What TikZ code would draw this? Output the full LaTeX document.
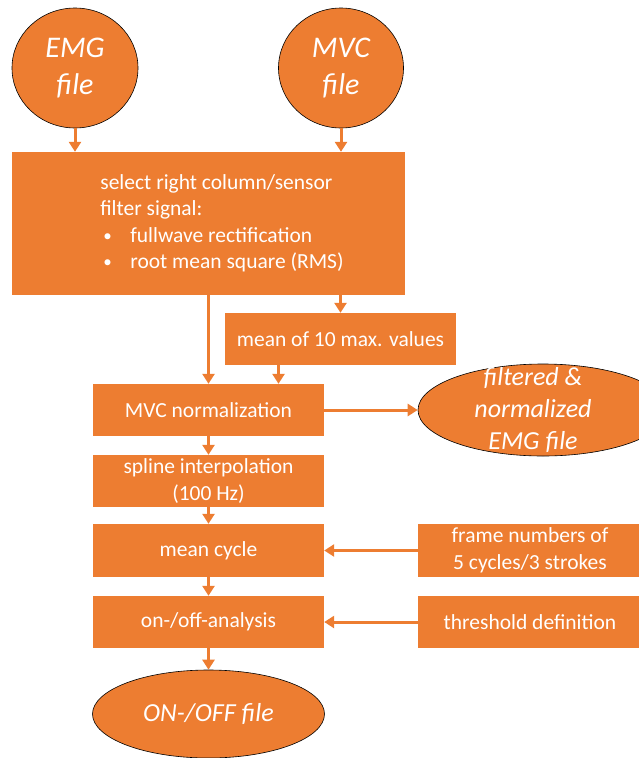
\documentclass[tikz,border=0pt]{standalone}
\usepackage{fontspec}
\setmainfont{Carlito}
\usetikzlibrary{arrows.meta,shapes.geometric}
\definecolor{emgorange}{HTML}{ED7D31}
\newcommand{\itembul}{\hspace{3pt}\makebox[27pt][l]{\fontsize{17}{20}\selectfont\raisebox{1pt}{\textbullet}}}

\begin{document}
\begin{tikzpicture}[x=1pt, y=-1pt,
    stepbox/.style={fill=emgorange, text=white, inner sep=0pt, align=center,
        minimum width=231pt, minimum height=52pt, font=\fontsize{21.5}{26.5}\selectfont},
    filebub/.style={ellipse, draw=black, line width=0.6pt, fill=emgorange, text=white,
        inner sep=0pt, align=center, font=\itshape\fontsize{30}{37}\selectfont},
    arr/.style={draw=emgorange, line width=3pt, -{Triangle[length=10pt,width=12pt]}}]
    \useasboundingbox (0,0) rectangle (638,758);

    % Input files
    \node[filebub, minimum width=126pt, minimum height=120pt] (emg) at (75,68) {EMG\\file};
    \node[filebub, minimum width=125pt, minimum height=120pt] (mvc) at (341,68) {MVC\\file};

    % Filtering
    \node[stepbox, minimum width=393pt, minimum height=143pt] (filt) at (208.5,223.5)
        {\begin{tabular}{@{\hspace{27pt}}l@{}}
        select right column/sensor\\
        filter signal:\\
        \itembul fullwave rectification\\
        \itembul root mean square (RMS)
        \end{tabular}};
    \node[stepbox] (mean) at (340.5,339) {mean of 10 max. values};

    % Processing chain
    \node[stepbox] (norm) at (208.5,410) {MVC normalization};
    \node[stepbox] (spline) at (208.5,481) {spline interpolation\\(100 Hz)};
    \node[stepbox, minimum height=53pt] (cycle) at (208.5,550.5) {mean cycle};
    \node[stepbox] (onoff) at (208.5,622) {on-/off-analysis};

    % Side inputs
    \node[stepbox, minimum width=224pt, minimum height=53pt] (frames) at (530,550.5) {frame numbers of\\5 cycles/3 strokes};
    \node[stepbox, minimum width=224pt] (thresh) at (530,622) {threshold definition};

    % Output files
    \node[filebub, minimum width=250pt, minimum height=92pt,
        label={[xshift=-10pt, text=white, align=center, font=\itshape\fontsize{26}{32}\selectfont]center:filtered \&\\normalized\\EMG file}]
        (filtered) at (543,410) {};
    \node[filebub, minimum width=232pt, minimum height=88pt, font=\itshape\fontsize{26}{32}\selectfont]
        (onofffile) at (208.5,714) {ON-/OFF file};

    % Arrows
    \draw[arr] (emg.south) -- (emg.south |- filt.north);
    \draw[arr] (mvc.south) -- (mvc.south |- filt.north);
    \draw[arr] (filt.south) -- (norm.north);
    \draw[arr] (mean.north |- filt.south) -- (mean.north);
    \draw[arr] ([xshift=-62pt]mean.south) -- ([xshift=-62pt]mean.south |- norm.north);
    \draw[arr] (norm.east) -- (filtered.west);
    \draw[arr] (norm.south) -- (spline.north);
    \draw[arr] (spline.south) -- (cycle.north);
    \draw[arr] (cycle.south) -- (onoff.north);
    \draw[arr] (onoff.south) -- (onofffile.north);
    \draw[arr] (frames.west) -- (cycle.east);
    \draw[arr] (thresh.west) -- (onoff.east);
\end{tikzpicture}
\end{document}
